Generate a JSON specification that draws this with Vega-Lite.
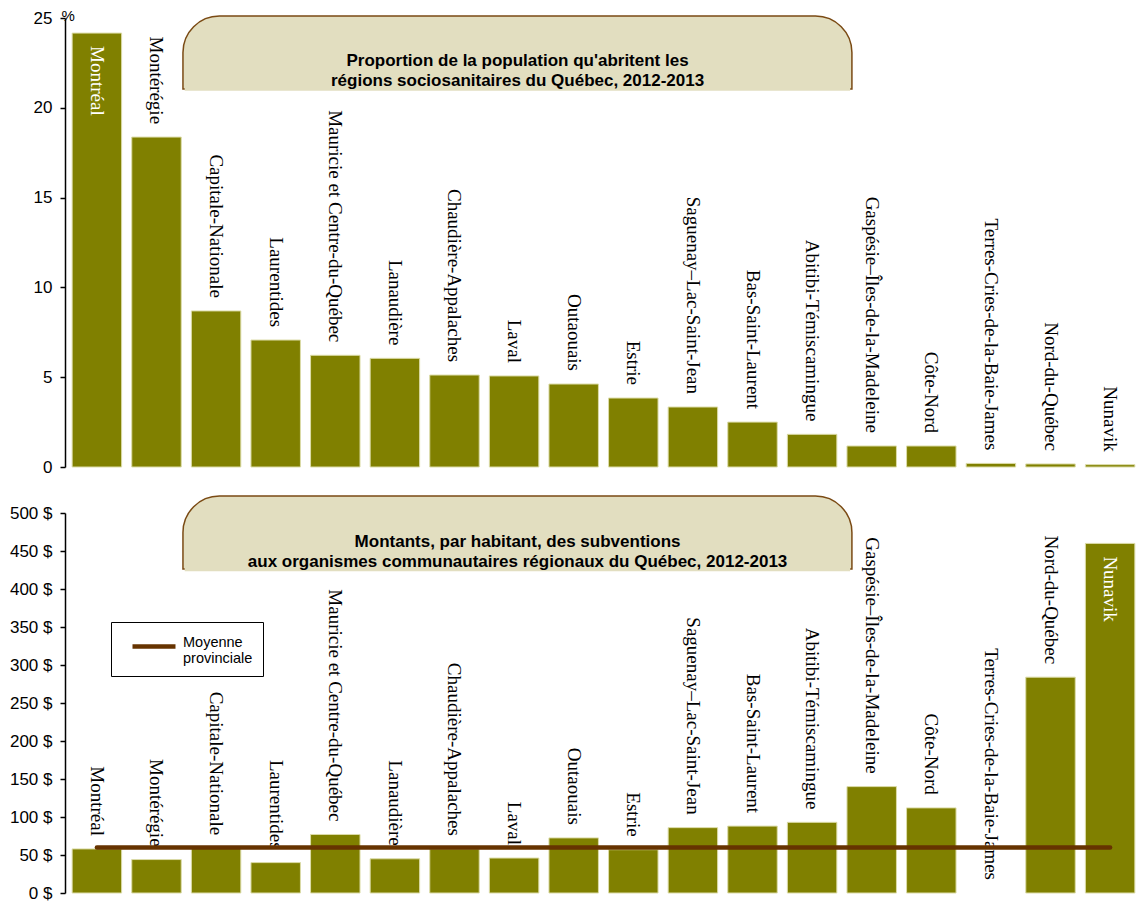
{
  "$schema": "https://vega.github.io/schema/vega-lite/v6.json",
  "padding": {"left": 9, "top": 8, "right": 0, "bottom": 0},
  "spacing": 20,
  "config": {
    "view": {"stroke": null},
    "axis": {
      "labelFont": "Liberation Sans", "labelFontSize": 17, "labelColor": "black",
      "domainColor": "black", "tickColor": "black", "domainWidth": 1.5, "tickWidth": 1.5,
      "tickSize": 5, "labelPadding": 8, "grid": false, "labelOverlap": false
    }
  },
  "datasets": {
    "regions": [
      {"region": "Montréal", "pct": 24.16, "montant": 58},
      {"region": "Montérégie", "pct": 18.37, "montant": 44},
      {"region": "Capitale-Nationale", "pct": 8.69, "montant": 59},
      {"region": "Laurentides", "pct": 7.07, "montant": 40},
      {"region": "Mauricie et Centre-du-Québec", "pct": 6.22, "montant": 77},
      {"region": "Lanaudière", "pct": 6.05, "montant": 45},
      {"region": "Chaudière-Appalaches", "pct": 5.12, "montant": 58},
      {"region": "Laval", "pct": 5.07, "montant": 46},
      {"region": "Outaouais", "pct": 4.62, "montant": 72.5},
      {"region": "Estrie", "pct": 3.84, "montant": 57},
      {"region": "Saguenay–Lac-Saint-Jean", "pct": 3.34, "montant": 86},
      {"region": "Bas-Saint-Laurent", "pct": 2.5, "montant": 88},
      {"region": "Abitibi-Témiscamingue", "pct": 1.82, "montant": 93},
      {"region": "Gaspésie–Îles-de-la-Madeleine", "pct": 1.17, "montant": 140},
      {"region": "Côte-Nord", "pct": 1.17, "montant": 112},
      {"region": "Terres-Cries-de-la-Baie-James", "pct": 0.2, "montant": 0},
      {"region": "Nord-du-Québec", "pct": 0.17, "montant": 284},
      {"region": "Nunavik", "pct": 0.13, "montant": 460}
    ],
    "moyenne": [{"serie": "Moyenne provinciale", "montant": 60}]
  },
  "vconcat": [
    {
      "width": 1077,
      "height": 449,
      "layer": [
        {
          "data": {"values": [{}]},
          "mark": {"type": "rect", "fill": "#E2DEC0", "stroke": "#7A4A14", "strokeWidth": 1.5, "cornerRadiusTopLeft": 58, "cornerRadiusTopRight": 58},
          "encoding": {
            "x": {"datum": "Montérégie", "type": "nominal", "bandPosition": 1.035, "axis": null,
              "scale": {"domain": ["Montréal","Montérégie","Capitale-Nationale","Laurentides","Mauricie et Centre-du-Québec","Lanaudière","Chaudière-Appalaches","Laval","Outaouais","Estrie","Saguenay–Lac-Saint-Jean","Bas-Saint-Laurent","Abitibi-Témiscamingue","Gaspésie–Îles-de-la-Madeleine","Côte-Nord","Terres-Cries-de-la-Baie-James","Nord-du-Québec","Nunavik"], "paddingInner": 0.17, "paddingOuter": 0.12}},
            "x2": {"datum": "Gaspésie–Îles-de-la-Madeleine", "bandPosition": 0.1},
            "y": {"datum": 25.11, "type": "quantitative", "scale": {"domain": [0, 25], "nice": false},
              "axis": {"values": [0, 5, 10, 15, 20, 25], "tickCount": 20, "title": "%", "titleAngle": 0, "titleX": -4, "titleY": -3, "titleAlign": "left", "titleBaseline": "middle", "titleFont": "Liberation Sans", "titleFontSize": 15, "titleFontWeight": "normal", "titleColor": "black"}},
            "y2": {"datum": 21.05}
          }
        },
        {
          "data": {"values": [{}]},
          "mark": {"type": "rect", "fill": "#E2DEC0"},
          "encoding": {
            "x": {"datum": "Montérégie", "type": "nominal", "bandPosition": 1.07, "axis": null},
            "x2": {"datum": "Gaspésie–Îles-de-la-Madeleine", "bandPosition": 0.065},
            "y": {"datum": 21.17, "type": "quantitative"},
            "y2": {"datum": 20.95}
          }
        },
        {
          "data": {"values": [{}]},
          "mark": {"type": "text", "font": "Liberation Sans", "fontSize": 17, "fontWeight": "bold", "lineHeight": 20, "align": "center", "baseline": "middle", "color": "black"},
          "encoding": {
            "x": {"datum": "Laval", "type": "nominal", "bandPosition": 0.57, "axis": null},
            "y": {"datum": 22.6, "type": "quantitative"},
            "text": {"value": ["Proportion de la population qu'abritent les", "régions sociosanitaires du Québec, 2012-2013"]}
          }
        },
        {
          "data": {"name": "regions"},
          "mark": {"type": "bar", "color": "#808000", "stroke": "#DCDCA8", "strokeWidth": 1},
          "encoding": {
            "x": {"field": "region", "type": "nominal", "sort": null, "axis": null},
            "y": {"field": "pct", "type": "quantitative"}
          }
        },
        {
          "data": {"name": "regions"},
          "transform": [{"filter": "datum.pct <= 20"}],
          "mark": {"type": "text", "angle": 90, "align": "right", "baseline": "middle", "dx": -13, "font": "Liberation Serif", "fontSize": 19, "color": "black"},
          "encoding": {
            "x": {"field": "region", "type": "nominal", "sort": null, "axis": null},
            "y": {"field": "pct", "type": "quantitative"},
            "text": {"field": "region"}
          }
        },
        {
          "data": {"name": "regions"},
          "transform": [{"filter": "datum.pct > 20"}],
          "mark": {"type": "text", "angle": 90, "align": "left", "baseline": "middle", "dx": 13, "font": "Liberation Serif", "fontSize": 19, "color": "white"},
          "encoding": {
            "x": {"field": "region", "type": "nominal", "sort": null, "axis": null},
            "y": {"field": "pct", "type": "quantitative"},
            "text": {"field": "region"}
          }
        }
      ]
    },
    {
      "width": 1077,
      "height": 380,
      "layer": [
        {
          "data": {"values": [{}]},
          "mark": {"type": "rect", "fill": "#E2DEC0", "stroke": "#7A4A14", "strokeWidth": 1.5, "cornerRadiusTopLeft": 58, "cornerRadiusTopRight": 58},
          "encoding": {
            "x": {"datum": "Montérégie", "type": "nominal", "bandPosition": 1.035, "axis": null,
              "scale": {"domain": ["Montréal","Montérégie","Capitale-Nationale","Laurentides","Mauricie et Centre-du-Québec","Lanaudière","Chaudière-Appalaches","Laval","Outaouais","Estrie","Saguenay–Lac-Saint-Jean","Bas-Saint-Laurent","Abitibi-Témiscamingue","Gaspésie–Îles-de-la-Madeleine","Côte-Nord","Terres-Cries-de-la-Baie-James","Nord-du-Québec","Nunavik"], "paddingInner": 0.17, "paddingOuter": 0.12}},
            "x2": {"datum": "Gaspésie–Îles-de-la-Madeleine", "bandPosition": 0.1},
            "y": {"datum": 522.4, "type": "quantitative", "scale": {"domain": [0, 500], "nice": false},
              "axis": {"values": [0, 50, 100, 150, 200, 250, 300, 350, 400, 450, 500], "tickCount": 20, "title": null, "labelExpr": "datum.value + ' $'"}},
            "y2": {"datum": 426.3}
          }
        },
        {
          "data": {"values": [{}]},
          "mark": {"type": "rect", "fill": "#E2DEC0"},
          "encoding": {
            "x": {"datum": "Montérégie", "type": "nominal", "bandPosition": 1.07, "axis": null},
            "x2": {"datum": "Gaspésie–Îles-de-la-Madeleine", "bandPosition": 0.065},
            "y": {"datum": 429, "type": "quantitative"},
            "y2": {"datum": 423.5}
          }
        },
        {
          "data": {"values": [{}]},
          "mark": {"type": "text", "font": "Liberation Sans", "fontSize": 17, "fontWeight": "bold", "lineHeight": 20, "align": "center", "baseline": "middle", "color": "black"},
          "encoding": {
            "x": {"datum": "Laval", "type": "nominal", "bandPosition": 0.57, "axis": null},
            "y": {"datum": 461.8, "type": "quantitative"},
            "text": {"value": ["Montants, par habitant, des subventions", "aux organismes communautaires régionaux du Québec, 2012-2013"]}
          }
        },
        {
          "data": {"name": "regions"},
          "transform": [{"filter": "datum.montant > 0"}],
          "mark": {"type": "bar", "color": "#808000", "stroke": "#DCDCA8", "strokeWidth": 1},
          "encoding": {
            "x": {"field": "region", "type": "nominal", "sort": null, "axis": null},
            "y": {"field": "montant", "type": "quantitative"}
          }
        },
        {
          "data": {"name": "regions"},
          "transform": [{"filter": "datum.montant <= 400"}],
          "mark": {"type": "text", "angle": 90, "align": "right", "baseline": "middle", "dx": -13, "font": "Liberation Serif", "fontSize": 19, "color": "black"},
          "encoding": {
            "x": {"field": "region", "type": "nominal", "sort": null, "axis": null},
            "y": {"field": "montant", "type": "quantitative"},
            "text": {"field": "region"}
          }
        },
        {
          "data": {"name": "regions"},
          "transform": [{"filter": "datum.montant > 400"}],
          "mark": {"type": "text", "angle": 90, "align": "left", "baseline": "middle", "dx": 13, "font": "Liberation Serif", "fontSize": 19, "color": "white"},
          "encoding": {
            "x": {"field": "region", "type": "nominal", "sort": null, "axis": null},
            "y": {"field": "montant", "type": "quantitative"},
            "text": {"field": "region"}
          }
        },
        {
          "data": {"name": "moyenne"},
          "mark": {"type": "rule", "strokeWidth": 4.5, "strokeCap": "round"},
          "encoding": {
            "x": {"datum": "Montréal", "type": "nominal", "bandPosition": 0.5, "axis": null},
            "x2": {"datum": "Nunavik", "bandPosition": 0.5},
            "y": {"field": "montant", "type": "quantitative"},
            "stroke": {"field": "serie", "type": "nominal", "scale": {"range": ["#663300"]},
              "legend": {"title": null, "orient": "none", "legendX": 46, "legendY": 604, "symbolType": "M-0.25,0H3.333", "symbolStrokeWidth": 4.5, "symbolSize": 576, "labelFont": "Liberation Sans", "labelFontSize": 14.5, "labelColor": "black", "labelExpr": "['Moyenne', 'provinciale']", "labelBaseline": "alphabetic", "labelOffset": 33, "strokeColor": "black", "fillColor": "white", "padding": 10}}
          }
        }
      ]
    }
  ]
}
